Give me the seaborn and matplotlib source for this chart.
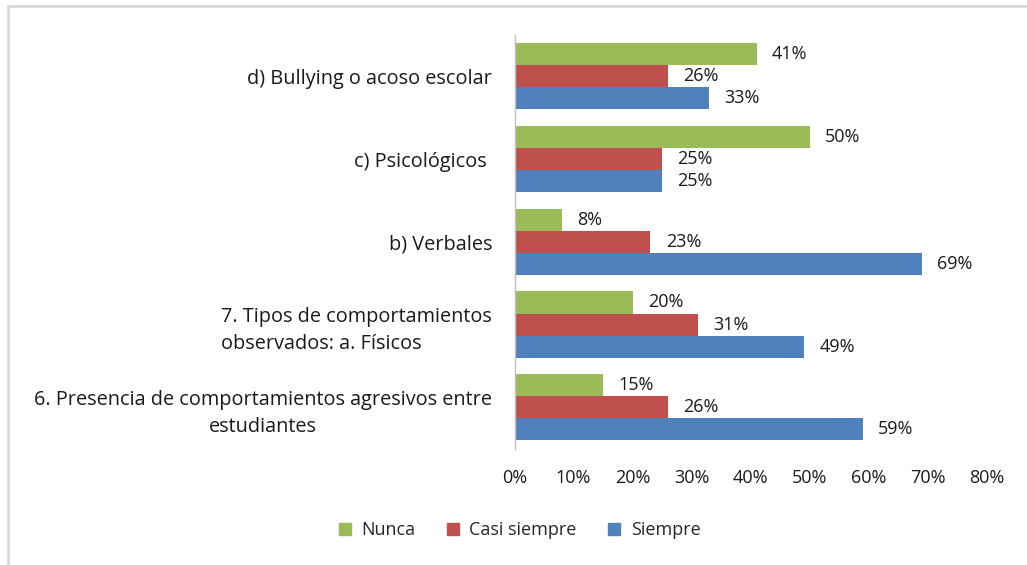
import matplotlib
matplotlib.use("Agg")
import matplotlib.pyplot as plt
import matplotlib.ticker as mticker
from matplotlib.lines import Line2D
import pandas as pd
import seaborn as sns

categorias = [
    "d) Bullying o acoso escolar",
    "c) Psicológicos ",
    "b) Verbales",
    "7. Tipos de comportamientos\nobservados: a. Físicos",
    "6. Presencia de comportamientos agresivos entre\nestudiantes",
]
respuestas = ["Nunca", "Casi siempre", "Siempre"]
nunca = [41, 50, 8, 20, 15]
casi_siempre = [26, 25, 23, 31, 26]
siempre = [33, 25, 69, 49, 59]
colores = ["#9BBB59", "#C0504D", "#4F81BD"]

df = pd.DataFrame({
    "categoria": categorias * 3,
    "respuesta": [r for r in respuestas for _ in categorias],
    "valor": nunca + casi_siempre + siempre,
})

sns.set_style("white")
plt.rcParams["font.family"] = ["Open Sans", "DejaVu Sans"]

fig = plt.figure(figsize=(10.27, 5.65), dpi=100)
ax = fig.add_axes([0.501, 0.206, 0.46, 0.732])

sns.barplot(data=df, x="valor", y="categoria", hue="respuesta",
            order=categorias, hue_order=respuestas, palette=colores,
            orient="h", width=0.8, saturation=1, linewidth=0, ax=ax,
            legend=False)

for cont in ax.containers:
    ax.bar_label(cont, fmt="%d%%", padding=11, fontsize=13, color="#1a1a1a")

ax.set_xlim(0, 80)
ax.set_xticks(range(0, 81, 10))
ax.xaxis.set_major_formatter(mticker.FormatStrFormatter("%d%%"))
ax.set_xlabel("")
ax.set_ylabel("")
ax.tick_params(axis="x", length=0, pad=15, labelsize=13, labelcolor="#1a1a1a")
ax.tick_params(axis="y", length=0, pad=16, labelsize=14.3, labelcolor="#1a1a1a")
for lab in ax.get_yticklabels():
    lab.set_linespacing(1.45)
    if lab.get_text().startswith("7."):
        lab.set_multialignment("left")
    else:
        lab.set_multialignment("center")

for s in ["top", "right", "bottom"]:
    ax.spines[s].set_visible(False)
ax.spines["left"].set_color("#bfbfbf")
ax.spines["left"].set_linewidth(1)

handles = [Line2D([], [], marker="s", linestyle="none", markersize=9,
                  markerfacecolor=c, markeredgecolor=c) for c in colores]
fig.legend(handles, respuestas, loc="center", bbox_to_anchor=(0.5, 0.062),
           ncol=3, frameon=False, fontsize=13, handletextpad=-0.1,
           columnspacing=1.1)

# marco gris claro
fig.add_artist(Line2D([0.008, 1.0], [0.989, 0.989], color="#d9d9d9",
                      linewidth=2, transform=fig.transFigure))
fig.add_artist(Line2D([0.008, 0.008], [0.0, 0.989], color="#d9d9d9",
                      linewidth=2, transform=fig.transFigure))

fig.savefig("out.png", dpi=100)
